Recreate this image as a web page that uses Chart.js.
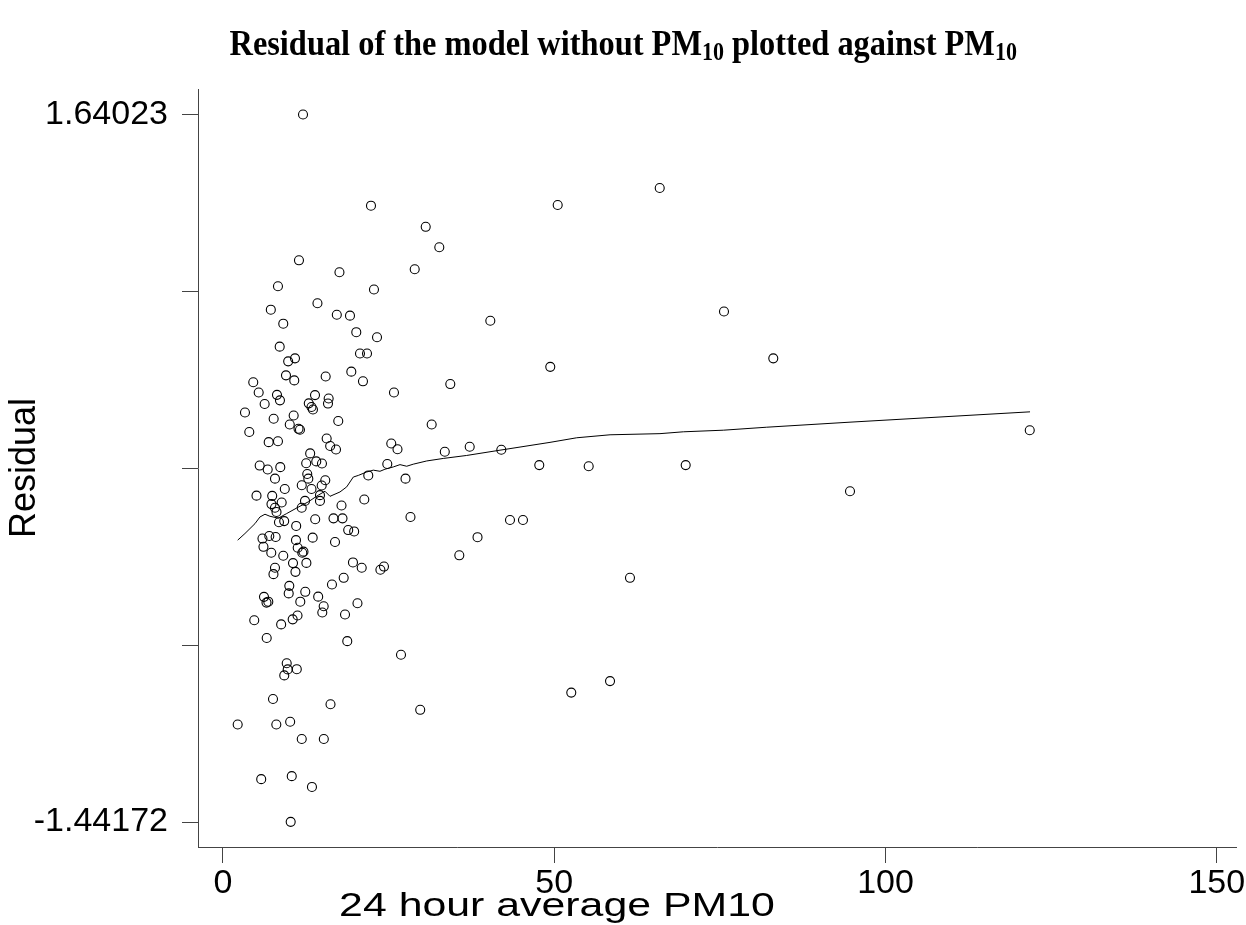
<!DOCTYPE html>
<html><head><meta charset="utf-8">
<script src="https://cdn.jsdelivr.net/npm/chart.js@4"></script>
<style>
html,body{margin:0;padding:0;background:#fff;}
#wrap{position:relative;width:1246px;height:925px;overflow:hidden;background:#fff}
#title{position:absolute;top:22px;left:0;width:1246px;text-align:center;font:bold 36px "Liberation Serif","Times New Roman",serif;color:#000;white-space:nowrap;transform:scaleX(0.9);transform-origin:625px 0}
#title sub{font-size:0.68em;vertical-align:baseline;position:relative;top:0.22em}
canvas{position:absolute;left:0;top:0}
</style></head><body>
<div id="wrap"><canvas id="c" width="1246" height="925"></canvas>
<div id="title">Residual of the model without PM<sub>10</sub> plotted against PM<sub>10</sub></div></div>
<script>
const pm10 = [12.08,22.34,50.52,65.92,30.60,32.65,11.47,28.94,17.58,8.30,
22.79,14.26,7.22,17.18,19.17,9.10,20.12,23.25,8.56,20.68,
21.74,10.87,9.84,75.62,40.35,83.06,49.40,34.31,19.37,9.51,
15.50,10.76,21.13,4.57,5.39,8.15,13.89,8.60,15.95,25.81,
6.29,12.95,13.36,13.58,15.85,3.32,10.67,7.65,17.40,10.08,
11.40,11.62,3.97,15.65,6.90,8.30,25.40,16.18,17.06,26.34,
13.16,12.56,14.08,14.94,24.80,5.54,6.75,8.65,31.50,33.48,
37.24,42.01,47.74,55.20,69.84,27.55,7.85,12.72,12.88,15.44,
14.90,11.89,13.36,9.33,5.06,7.43,14.64,14.64,7.32,8.86,
7.85,8.08,12.38,11.88,17.89,21.33,21.93,28.30,13.92,16.68,
18.04,8.45,9.24,11.05,18.90,19.80,5.96,6.99,7.95,11.02,
13.54,16.91,6.11,11.28,11.97,12.15,7.29,9.10,10.57,12.59,
19.62,20.94,7.85,7.62,10.94,23.76,24.30,18.22,16.45,38.42,
35.67,43.32,45.28,61.43,94.64,121.77,10.01,9.92,12.42,6.19,
6.57,6.84,11.67,14.37,15.20,14.99,20.30,4.72,8.78,10.52,
11.25,18.42,6.60,18.76,26.87,9.62,9.77,9.25,11.14,7.55,
16.23,29.77,2.22,8.05,10.14,11.89,15.22,5.77,10.38,13.43,
10.22,58.42,52.57];
const residual = [1.640,1.243,1.246,1.320,1.151,1.062,1.005,0.966,0.953,0.892,
0.878,0.818,0.790,0.768,0.764,0.729,0.692,0.670,0.629,0.599,
0.599,0.578,0.565,0.782,0.742,0.578,0.541,0.466,0.520,0.504,
0.499,0.482,0.478,0.474,0.429,0.419,0.418,0.395,0.403,0.429,
0.379,0.382,0.366,0.355,0.381,0.342,0.329,0.315,0.305,0.290,
0.271,0.267,0.257,0.229,0.213,0.217,0.207,0.196,0.181,0.182,
0.164,0.121,0.129,0.120,0.118,0.111,0.094,0.104,0.290,0.171,
0.193,0.180,0.113,0.108,0.113,0.054,0.054,0.074,0.054,0.047,
0.024,0.025,0.009,0.009,-0.020,-0.021,-0.018,-0.043,-0.057,-0.050,
-0.073,-0.091,-0.043,-0.073,-0.063,-0.037,0.068,-0.113,-0.123,-0.119,
-0.119,-0.136,-0.131,-0.152,-0.170,-0.176,-0.207,-0.196,-0.200,-0.214,
-0.203,-0.222,-0.243,-0.247,-0.269,-0.264,-0.269,-0.282,-0.314,-0.313,
-0.311,-0.334,-0.334,-0.362,-0.352,-0.343,-0.329,-0.378,-0.407,-0.201,
-0.280,-0.126,-0.126,-0.378,-0.001,0.265,-0.413,-0.446,-0.439,-0.461,
-0.486,-0.482,-0.482,-0.460,-0.502,-0.529,-0.489,-0.563,-0.581,-0.559,
-0.542,-0.538,-0.640,-0.654,-0.713,-0.750,-0.777,-0.803,-0.776,-0.906,
-0.929,-0.953,-1.017,-1.017,-1.005,-1.080,-1.080,-1.255,-1.242,-1.289,
-1.441,-0.828,-0.878];
const smoothX = [2.22,3.32,4.83,5.58,6.34,7.09,8.35,9.62,11.12,12.88,14.38,15.40,16.15,17.66,18.67,19.67,20.42,21.69,22.69,23.70,24.45,25.71,26.72,27.73,28.72,30.75,33.25,36.78,41.81,49.36,53.39,58.42,65.96,69.48,75.52,82.07,94.64,121.81];
const smoothY = [-0.214,-0.185,-0.142,-0.113,-0.101,-0.110,-0.118,-0.098,-0.074,-0.047,-0.018,-0.001,-0.023,-0.004,0.018,0.061,0.068,0.083,0.091,0.086,0.095,0.105,0.115,0.108,0.117,0.131,0.142,0.155,0.178,0.212,0.232,0.245,0.250,0.258,0.265,0.278,0.300,0.345];
const xTicks = [0,50,100,150];
const xTickLabels = ['0','50','100','150'];
const yTicks = [-1.44172,-0.671232,0.099256,0.869744,1.64023];
const yTickLabels = ['-1.44172','','','','1.64023'];
const xTitle = '24 hour average PM10';
const yTitle = 'Residual';

const axisColor = '#444';
const xTitlePlugin = {
  id:'xTitlePlugin',
  afterDraw(chart){
    const ctx = chart.ctx;
    ctx.save();
    ctx.font = '34px "Liberation Sans", Arial, sans-serif';
    ctx.fillStyle = '#000';
    ctx.textAlign = 'center';
    ctx.textBaseline = 'alphabetic';
    ctx.translate(557, 916);
    ctx.scale(1.26, 1);
    ctx.fillText(xTitle, 0, 0);
    ctx.restore();
  }
};

new Chart(document.getElementById('c'), {
  type:'scatter',
  data:{
    datasets:[
      {
        label:'Residual',
        data: pm10.map((x,i)=>({x:x, y:residual[i]})),
        pointStyle:'circle',
        pointRadius:4.5,
        pointBorderWidth:1.1,
        pointBorderColor:'#000',
        pointBackgroundColor:'rgba(0,0,0,0)',
        showLine:false
      },
      {
        label:'lowess',
        data: smoothX.map((x,i)=>({x:x, y:smoothY[i]})),
        showLine:true,
        pointRadius:0,
        borderColor:'#000',
        borderWidth:1,
        tension:0,
        fill:false
      }
    ]
  },
  options:{
    responsive:false,
    animation:false,
    devicePixelRatio:1,
    layout:{padding:{top:89,right:10,left:0,bottom:0}},
    plugins:{legend:{display:false},tooltip:{enabled:false},title:{display:false}},
    scales:{
      x:{
        type:'linear',
        min:-3.77, max:152.9,
        afterBuildTicks:(s)=>{ s.ticks = xTicks.map(v=>({value:v})); },
        afterFit:(s)=>{ s.height = 78; },
        ticks:{
          autoSkip:false, maxRotation:0, padding:0,
          color:'#000',
          font:{family:'"Liberation Sans", Arial, sans-serif', size:34},
          callback:(v,i)=>xTickLabels[i]
        },
        grid:{drawOnChartArea:false, drawTicks:true, tickLength:16, color:axisColor, lineWidth:1},
        border:{display:true, color:axisColor, width:1}
      },
      y:{
        type:'linear',
        min:-1.5506, max:1.7513,
        afterBuildTicks:(s)=>{ s.ticks = yTicks.map(v=>({value:v})); },
        afterFit:(s)=>{ s.width = 198; },
        ticks:{
          autoSkip:false, padding:14,
          color:'#000',
          font:{family:'"Liberation Sans", Arial, sans-serif', size:34},
          callback:(v,i)=>yTickLabels[i]
        },
        grid:{drawOnChartArea:false, drawTicks:true, tickLength:16, color:axisColor, lineWidth:1},
        border:{display:true, color:axisColor, width:1},
        title:{display:true, text:yTitle, color:'#000',
          font:{family:'"Liberation Sans", Arial, sans-serif', size:36, lineHeight:1.2},
          padding:{top:3,bottom:0}}
      }
    }
  },
  plugins:[xTitlePlugin]
});
</script>
</body></html>
